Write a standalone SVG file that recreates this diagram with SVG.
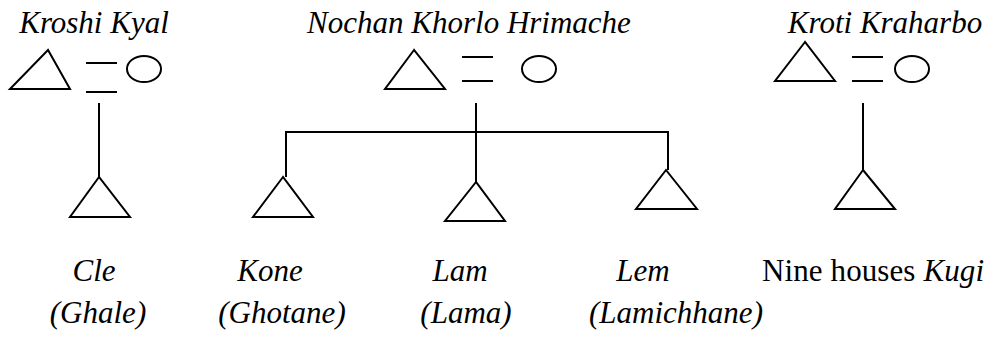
<svg xmlns="http://www.w3.org/2000/svg" width="989" height="343" viewBox="0 0 989 343">
<style>
.s{fill:none;stroke:#000;stroke-width:2}
.t{font-family:"Liberation Serif","Times New Roman",serif;font-size:31px;fill:#000;text-anchor:middle}
.i{font-style:italic}
</style>
<rect width="989" height="343" fill="#fff"/>
<g id="couple-kroshi-kyal">
<text class="t i" x="94" y="33">Kroshi Kyal</text>
<polygon class="s" points="48,50 10,89 70,89"/>
<line class="s" x1="86" y1="63" x2="117" y2="63"/>
<line class="s" x1="86" y1="92" x2="117" y2="92"/>
<ellipse class="s" cx="144" cy="69" rx="17" ry="13"/>
</g>
<g id="couple-nochan">
<text class="t i" x="469" y="33">Nochan Khorlo Hrimache</text>
<polygon class="s" points="414,50 385,89 445,89"/>
<line class="s" x1="462" y1="57" x2="493" y2="57"/>
<line class="s" x1="462" y1="81" x2="493" y2="81"/>
<ellipse class="s" cx="539" cy="69" rx="17" ry="13"/>
</g>
<g id="couple-kroti">
<text class="t i" x="885" y="33">Kroti Kraharbo</text>
<polygon class="s" points="805,42 775,81 835,81"/>
<line class="s" x1="852" y1="57" x2="883" y2="57"/>
<line class="s" x1="852" y1="81" x2="883" y2="81"/>
<ellipse class="s" cx="912" cy="69" rx="17" ry="13"/>
</g>
<g id="cle">
<polygon class="s" points="99,177 70,217 130,217"/>
<text class="t i" x="94" y="281">Cle</text>
<text class="t i" x="98" y="323">(Ghale)</text>
</g>
<g id="kone">
<polygon class="s" points="283,177 253,217 313,217"/>
<text class="t i" x="270" y="281">Kone</text>
<text class="t i" x="282" y="323">(Ghotane)</text>
</g>
<g id="lam">
<polygon class="s" points="476,182 445,221 505,221"/>
<text class="t i" x="460" y="281">Lam</text>
<text class="t i" x="466" y="323">(Lama)</text>
</g>
<g id="lem">
<polygon class="s" points="666,170 636,209 697,209"/>
<text class="t i" x="643" y="281">Lem</text>
<text class="t i" x="676" y="323">(Lamichhane)</text>
</g>
<g id="kugi">
<polygon class="s" points="863,170 835,209 895,209"/>
<text class="t" x="873" y="281" textLength="222" lengthAdjust="spacing">Nine houses <tspan class="i">Kugi</tspan></text>
</g>
<g id="connectors">
<line class="s" x1="99" y1="103" x2="99" y2="177"/>
<polyline class="s" points="286,177 286,132 668,132 668,170"/>
<line class="s" x1="476" y1="103" x2="476" y2="182"/>
<line class="s" x1="863" y1="103" x2="863" y2="170"/>
</g>
</svg>
